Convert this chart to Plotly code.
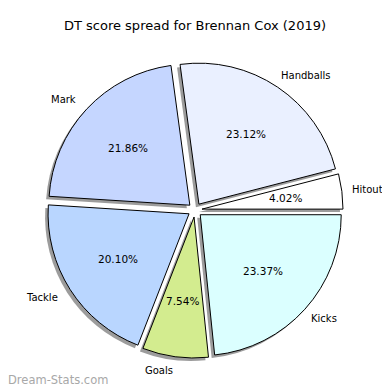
import math
import plotly.graph_objects as go

labels = ["Hitout", "Handballs", "Mark", "Tackle", "Goals", "Kicks"]
values = [4.02, 23.12, 21.86, 20.10, 7.54, 23.37]
colors = ["#ffffff", "#eaf0ff", "#c5d6ff", "#b9d6ff", "#d3ec8f", "#dbffff"]
title = "DT score spread for Brennan Cox (2019)"
watermark = "Dream-Stats.com"

explode = 0.05
pull = [explode] * len(values)
# the page body has an 8px margin, so everything is placed 8px up/left
W, H = 390, 382
cx, cy = 187, 180   # pie centre, pixels from bottom-left of figure
R = 141             # pie radius in pixels
half = R * (1 + explode)
font = "DejaVu Sans"
total = sum(values)
rotation = 90 - 360 * values[0] / total  # first slice starts at 3 o'clock going ccw

def dom(dx=0, dy=0):
    return dict(x=[(cx - half + dx) / W, (cx + half + dx) / W],
                y=[(cy - half + dy) / H, (cy + half + dy) / H])

fig = go.Figure()
# shadow copy
fig.add_trace(go.Pie(
    labels=labels, values=values, sort=False, direction="counterclockwise",
    rotation=rotation, pull=pull, domain=dom(-3, -3),
    marker=dict(colors=["rgba(90,90,90,0.6)"] * len(values), line=dict(width=0)),
    textinfo="none", hoverinfo="skip", showlegend=False))
# main pie
fig.add_trace(go.Pie(
    labels=labels, values=values, sort=False, direction="counterclockwise",
    rotation=rotation, pull=pull, domain=dom(),
    marker=dict(colors=colors, line=dict(width=1, color="black")),
    textinfo="none", showlegend=False))

annotations = []
start = 0.0
for lab, v in zip(labels, values):
    span = 360 * v / total
    mid = math.radians(start + span / 2)
    start += span
    c, s = math.cos(mid), math.sin(mid)
    rp = (explode + 0.6) * R
    annotations.append(dict(x=cx + rp * c, y=cy + rp * s, xref="x", yref="y",
                            text=f"{v:.2f}%", showarrow=False,
                            xanchor="center", yanchor="middle",
                            borderpad=0, borderwidth=0,
                            font=dict(family=font, size=10.5, color="black")))
    rl = (explode + 1.1) * R
    annotations.append(dict(x=cx + rl * c, y=cy + rl * s, xref="x", yref="y",
                            text=lab, showarrow=False,
                            xanchor="left" if c > 0 else "right", yanchor="middle",
                            xshift=-4 if c > 0 else 0,
                            borderpad=0, borderwidth=0,
                            font=dict(family=font, size=10, color="black")))

annotations.append(dict(text=watermark, x=0, y=10 / H, xref="paper", yref="paper",
                        xanchor="left", yanchor="middle", showarrow=False,
                        borderpad=0, borderwidth=0,
                        font=dict(family=font, size=11.5, color="#a8a8a8")))

fig.update_layout(
    width=W, height=H, margin=dict(l=0, r=0, t=0, b=0),
    paper_bgcolor="white", plot_bgcolor="rgba(0,0,0,0)",
    xaxis=dict(range=[0, W], visible=False, fixedrange=True, domain=[0, 1]),
    yaxis=dict(range=[0, H], visible=False, fixedrange=True, domain=[0, 1]),
    title=dict(text=title, x=187 / W, xref="paper", y=1 - 17 / H, xanchor="center", yanchor="middle",
               font=dict(family=font, size=13, color="black")),
    annotations=annotations,
)
fig.write_html("out.html")
